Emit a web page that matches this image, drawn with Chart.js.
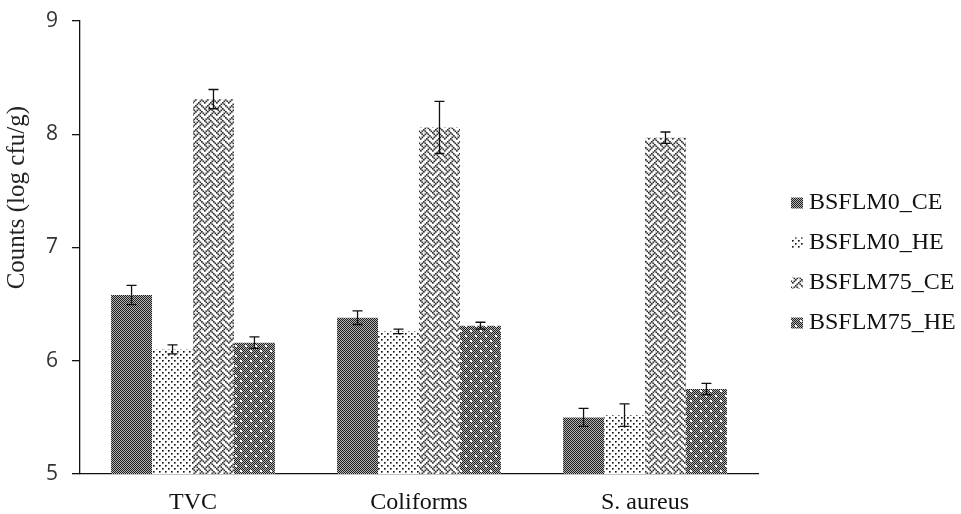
<!DOCTYPE html>
<html>
<head>
<meta charset="utf-8">
<script src="https://cdn.jsdelivr.net/npm/chart.js@4.4.1/dist/chart.umd.min.js"></script>
<style>
  body { margin: 0; background: #fff; }
  #wrap { width: 961px; height: 514px; }
</style>
</head>
<body>
<div id="wrap"><canvas id="chart" width="961" height="514"></canvas></div>
<script>
// --- data ---
const categories = ['TVC', 'Coliforms', 'S. aureus'];
const seriesNames = ['BSFLM0_CE', 'BSFLM0_HE', 'BSFLM75_CE', 'BSFLM75_HE'];
const m0ce = [6.58, 6.38, 5.50];
const m0ceErr = [0.085, 0.06, 0.08];
const m0he = [6.10, 6.26, 5.52];
const m0heErr = [0.04, 0.02, 0.10];
const m75ce = [8.31, 8.06, 7.97];
const m75ceErr = [0.085, 0.23, 0.05];
const m75he = [6.16, 6.31, 5.75];
const m75heErr = [0.05, 0.03, 0.05];
const yMin = 5, yMax = 9, yStep = 1;
const yTitle = 'Counts (log cfu/g)';

// --- fill patterns (Excel style hatches) ---
function tile(w, h, paint) {
  const c = document.createElement('canvas');
  c.width = w; c.height = h;
  const g = c.getContext('2d');
  paint(g);
  return document.getElementById('chart').getContext('2d').createPattern(c, 'repeat');
}
function checker(g, w, h) {
  for (let y = 0; y < h; y++) {
    for (let x = 0; x < w; x++) {
      g.fillStyle = (x + y) % 2 === 0 ? '#1e1e1e' : '#b4b4b4';
      g.fillRect(x, y, 1, 1);
    }
  }
}
function dot(g, x, y) {
  g.fillStyle = '#111'; g.fillRect(x, y, 1, 1);
  g.fillStyle = '#666'; g.fillRect(x + 1, y, 1, 1); g.fillRect(x, y + 1, 1, 1);
  g.fillStyle = '#aaa'; g.fillRect(x + 1, y + 1, 1, 1);
}
const patDark = tile(2, 2, g => checker(g, 2, 2));
const patDots = tile(6, 6, g => {
  g.fillStyle = '#fff'; g.fillRect(0, 0, 6, 6);
  dot(g, 0, 0); dot(g, 3, 3);
});
// weave hatch bitmap, drawn 1.5x larger
const weaveRows = [0x88, 0x54, 0x22, 0x45, 0x88, 0x14, 0x22, 0x51];
const patWeave = tile(12, 12, g => {
  g.fillStyle = '#fff'; g.fillRect(0, 0, 12, 12);
  g.fillStyle = '#333';
  weaveRows.forEach((row, y) => {
    for (let x = 0; x < 8; x++) {
      if (!(row & (0x80 >> x))) continue;
      const px = x * 1.5, py = y * 1.5;
      g.fillRect(px, py, 1.7, 1.7);
      if (px + 1.7 > 12) g.fillRect(px - 12, py, 1.7, 1.7);
      if (py + 1.7 > 12) g.fillRect(px, py - 12, 1.7, 1.7);
    }
  });
});
const patDarkDots = tile(10, 10, g => {
  checker(g, 10, 10);
  g.fillStyle = '#fff'; g.fillRect(0, 0, 2, 2); g.fillRect(5, 5, 2, 2);
});

const seriesData = [m0ce, m0he, m75ce, m75he];
const seriesErr = [m0ceErr, m0heErr, m75ceErr, m75heErr];
const seriesFill = [patDark, patDots, patWeave, patDarkDots];

// --- error bars drawn from the y scale ---
const errorBars = {
  id: 'errorBars',
  afterDatasetsDraw(chart) {
    const { ctx, scales: { y } } = chart;
    ctx.save();
    ctx.strokeStyle = '#111';
    ctx.lineWidth = 1.3;
    chart.data.datasets.forEach((ds, i) => {
      const meta = chart.getDatasetMeta(i);
      meta.data.forEach((bar, j) => {
        const v = ds.data[j], e = ds.err[j];
        const top = y.getPixelForValue(v + e);
        const bot = y.getPixelForValue(v - e);
        ctx.beginPath();
        ctx.moveTo(bar.x, top); ctx.lineTo(bar.x, bot);
        ctx.moveTo(bar.x - 5, top); ctx.lineTo(bar.x + 5, top);
        ctx.moveTo(bar.x - 5, bot); ctx.lineTo(bar.x + 5, bot);
        ctx.stroke();
      });
    });
    ctx.restore();
  }
};

// --- y title and legend ---
const sideText = {
  id: 'sideText',
  afterDraw(chart) {
    const { ctx, chartArea, scales: { y } } = chart;
    ctx.save();
    ctx.fillStyle = '#222';
    ctx.font = '25px "Liberation Serif"';
    ctx.textAlign = 'center';
    ctx.textBaseline = 'middle';
    ctx.translate(17, y.getPixelForValue(7.44));
    ctx.rotate(-Math.PI / 2);
    ctx.fillText(yTitle, 0, 0);
    ctx.restore();

    ctx.save();
    ctx.font = '24px "Liberation Serif"';
    ctx.textBaseline = 'middle';
    ctx.textAlign = 'left';
    const x0 = chartArea.right + 33;
    chart.data.datasets.forEach((ds, i) => {
      const cy = 203 + i * 40;
      ctx.fillStyle = ds.backgroundColor;
      ctx.fillRect(x0, cy - 5.5, 12, 11);
      ctx.fillStyle = '#111';
      ctx.fillText(ds.label, x0 + 18, cy);
    });
    ctx.restore();
  }
};

new Chart(document.getElementById('chart'), {
  type: 'bar',
  data: {
    labels: categories,
    datasets: seriesNames.map((name, i) => ({
      label: name,
      data: seriesData[i],
      err: seriesErr[i],
      backgroundColor: seriesFill[i],
      borderWidth: 0,
      categoryPercentage: 0.725,
      barPercentage: 1
    }))
  },
  options: {
    responsive: false,
    animation: false,
    layout: { padding: { top: 0, right: 203, left: 0, bottom: 0 } },
    plugins: { legend: { display: false }, tooltip: { enabled: false } },
    scales: {
      x: {
        grid: { display: false, drawTicks: false },
        border: { display: true, color: '#111', width: 1.3 },
        ticks: { color: '#111', padding: 14, font: { family: 'Liberation Serif', size: 24 } },
        afterFit(s) { s.height = 40; }
      },
      y: {
        min: yMin,
        max: yMax,
        grid: { drawOnChartArea: false, drawTicks: true, tickLength: 8, color: '#111', lineWidth: 1.3 },
        border: { display: true, color: '#111', width: 1.3 },
        ticks: { stepSize: yStep, color: '#333', padding: 14, font: { family: 'Open Sans', size: 21, lineHeight: 0.667 } },
        afterFit(s) { s.width = 80; }
      }
    }
  },
  plugins: [errorBars, sideText]
});
</script>
</body>
</html>
